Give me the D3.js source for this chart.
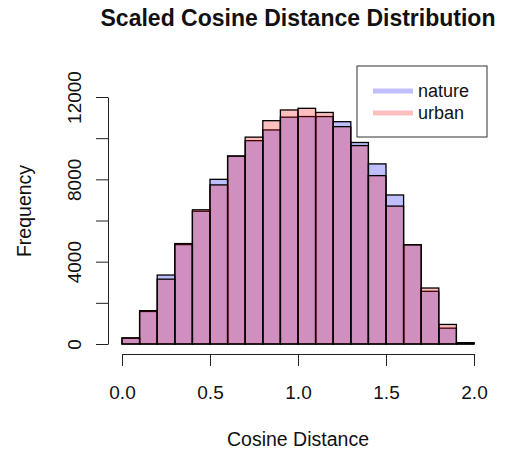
<!DOCTYPE html>
<html>
<head>
<meta charset="utf-8">
<script src="https://cdn.jsdelivr.net/npm/d3@7"></script>
<style>
  body { margin: 0; background: #fff; }
  text { font-family: "Liberation Sans", Arial, sans-serif; fill: #111; }
</style>
</head>
<body>
<svg id="chart" width="505" height="452"></svg>
<script>
// bins of width 0.1 from 0 to 2
var binStarts = d3.range(0, 20).map(function(i) { return i / 10; });
var nature = [280, 1580, 3350, 4830, 6450, 8000, 9130, 9880, 10400, 11020,
              11050, 11050, 10800, 9790, 8750, 7240, 4820, 2560, 770, 60];
var urban  = [300, 1620, 3150, 4880, 6520, 7730, 9130, 10050, 10850, 11370,
              11450, 11250, 10560, 9640, 8180, 6700, 4820, 2720, 950, 60];
var xTicks = [0, 0.5, 1.0, 1.5, 2.0];
var yTicks = [0, 2000, 4000, 6000, 8000, 10000, 12000];
var seriesNames = ["nature", "urban"];
var seriesColors = ["rgba(0,0,255,0.25)", "rgba(255,0,0,0.25)"];

var svg = d3.select("#chart");

var x = d3.scaleLinear().domain([0, 2]).range([122, 474]);
var y = d3.scaleLinear().domain([0, 12000]).range([344, 97]);

// title
svg.append("text")
  .attr("x", 298)
  .attr("y", 26)
  .attr("text-anchor", "middle")
  .style("font-size", "23px")
  .style("font-weight", "bold")
  .text("Scaled Cosine Distance Distribution");

// histograms, nature first then urban on top
[nature, urban].forEach(function(vals, k) {
  svg.append("g")
    .selectAll("rect")
    .data(vals)
    .enter()
      .append("rect")
      .attr("x", function(d, i) { return x(binStarts[i]); })
      .attr("y", function(d) { return y(d); })
      .attr("width", x(0.1) - x(0))
      .attr("height", function(d) { return y(0) - y(d); })
      .attr("fill", seriesColors[k])
      .attr("stroke", "#000")
      .attr("stroke-width", 1.3);
});

// x axis
var gx = svg.append("g")
  .attr("transform", "translate(0,354)")
  .call(d3.axisBottom(x).tickValues(xTicks).tickSize(12).tickSizeOuter(0)
    .tickFormat(d3.format(".1f")));
gx.selectAll("text").style("font-size", "19px").attr("dy", 0).attr("y", 45);

// y axis
var gy = svg.append("g")
  .attr("transform", "translate(108,0)")
  .call(d3.axisLeft(y).tickValues(yTicks).tickSize(12).tickSizeOuter(0)
    .tickFormat(function(v) { return v % 4000 === 0 ? v : ""; }));
gy.selectAll(".tick text")
  .style("font-size", "19px")
  .attr("x", 0).attr("dy", 0)
  .attr("text-anchor", "middle")
  .attr("transform", "translate(-27,0) rotate(-90)");

[gx, gy].forEach(function(g) {
  g.select(".domain").attr("stroke", "#222");
  g.selectAll(".tick line").attr("stroke", "#222");
});

// axis labels
svg.append("text")
  .attr("x", 298)
  .attr("y", 446)
  .attr("text-anchor", "middle")
  .style("font-size", "19.5px")
  .text("Cosine Distance");

svg.append("text")
  .attr("transform", "translate(31,211) rotate(-90)")
  .attr("text-anchor", "middle")
  .style("font-size", "19.5px")
  .text("Frequency");

// legend
var leg = svg.append("g");
leg.append("rect")
  .attr("x", 357).attr("y", 66)
  .attr("width", 130).attr("height", 71)
  .attr("fill", "#fff")
  .attr("stroke", "#333");
seriesNames.forEach(function(name, k) {
  var ly = 91 + k * 22;
  leg.append("line")
    .attr("x1", 373).attr("x2", 413)
    .attr("y1", ly).attr("y2", ly)
    .attr("stroke", seriesColors[k])
    .attr("stroke-width", 5);
  leg.append("text")
    .attr("x", 418)
    .attr("y", ly + 6)
    .style("font-size", "18px")
    .text(name);
});
</script>
</body>
</html>
